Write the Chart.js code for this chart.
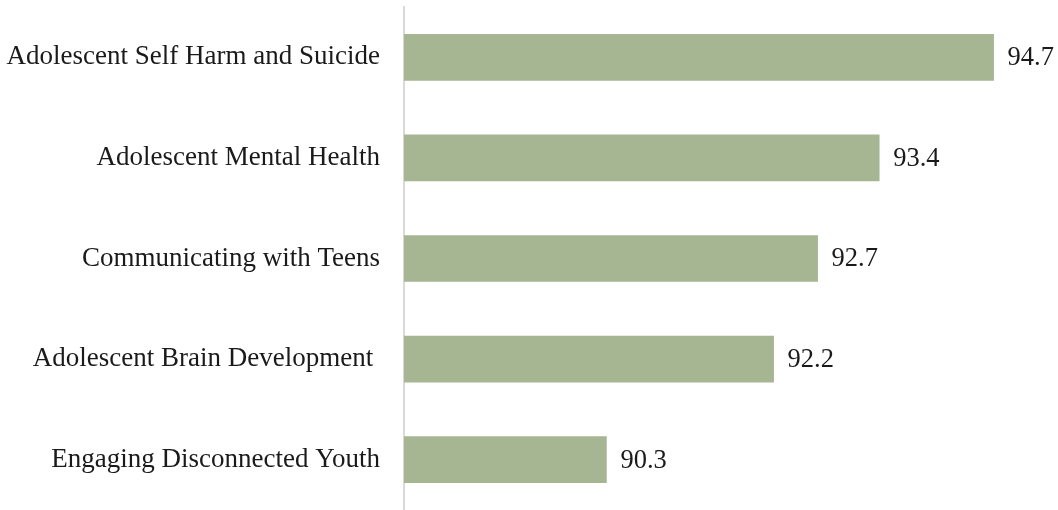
<!DOCTYPE html>
<html>
<head>
<meta charset="utf-8">
<script src="https://cdn.jsdelivr.net/npm/chart.js@4"></script>
<style>
  html, body { margin: 0; padding: 0; background: #fff; }
  #wrap { width: 1058px; height: 510px; }
</style>
</head>
<body>
<div id="wrap"><canvas id="chart"></canvas></div>
<script>
const categories = [
    'Adolescent Self Harm and Suicide',
    'Adolescent Mental Health',
    'Communicating with Teens',
    'Adolescent Brain Development ',
    'Engaging Disconnected Youth'
];
const scores = [94.7, 93.4, 92.7, 92.2, 90.3];
const axisMin = 88;
const axisMax = 95;

const FONT = '"Liberation Serif", "DejaVu Serif", serif';

// draws the value to the right of each bar
const valueLabels = {
    id: 'valueLabels',
    afterDatasetsDraw(chart) {
        const ctx = chart.ctx;
        const meta = chart.getDatasetMeta(0);
        ctx.save();
        ctx.font = '26.5px ' + FONT;
        ctx.fillStyle = '#1a1a1a';
        ctx.textAlign = 'left';
        ctx.textBaseline = 'middle';
        meta.data.forEach((bar, i) => {
            ctx.fillText(scores[i].toFixed(1), bar.x + 14, bar.y + 1);
        });
        ctx.restore();
    }
};

new Chart(document.getElementById('chart').getContext('2d'), {
    type: 'bar',
    data: {
        labels: categories,
        datasets: [{
            data: scores,
            backgroundColor: '#a6b592',
            borderWidth: 0,
            barThickness: 46
        }]
    },
    plugins: [valueLabels],
    options: {
        indexAxis: 'y',
        responsive: true,
        maintainAspectRatio: false,
        animation: false,
        layout: { padding: { top: 7, right: 38, bottom: -2, left: 0 } },
        scales: {
            x: {
                display: false,
                min: axisMin,
                max: axisMax
            },
            y: {
                grid: { display: false, drawTicks: false },
                border: { display: true, color: '#d9d9d9', width: 2 },
                ticks: {
                    color: '#1a1a1a',
                    font: { family: FONT, size: 27 },
                    padding: 24
                },
                afterFit(scale) {
                    scale.width = 404;
                    scale.paddingTop = 0;
                    scale.paddingBottom = 0;
                }
            }
        },
        plugins: {
            legend: { display: false },
            tooltip: { enabled: false }
        }
    }
});
</script>
</body>
</html>
